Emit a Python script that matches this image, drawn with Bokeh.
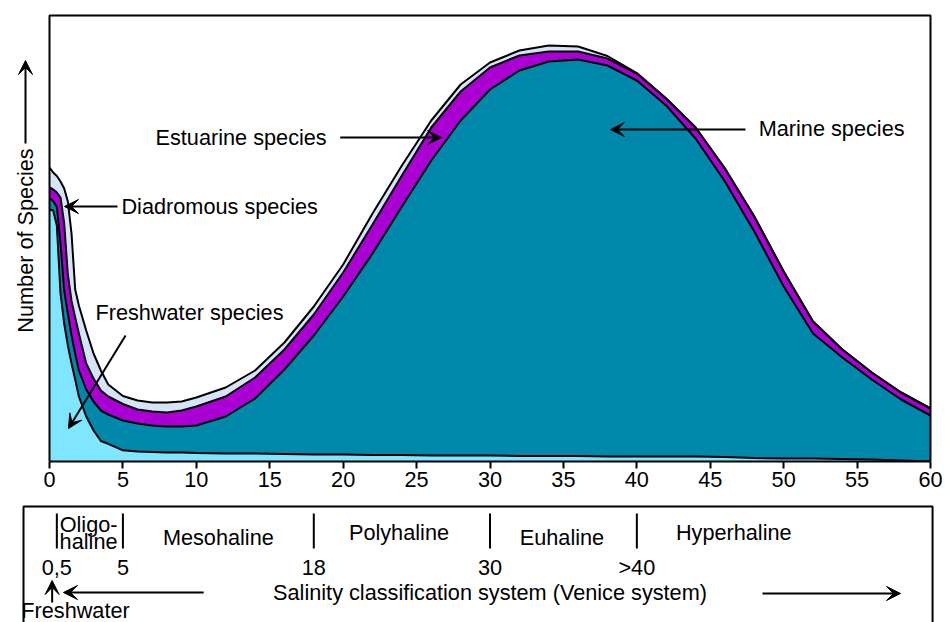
import numpy as np
from bokeh.plotting import figure
from bokeh.models import Range1d, Arrow, VeeHead, FixedTicker
from bokeh.layouts import column
from bokeh.embed import file_html
from bokeh.resources import INLINE
from bokeh.core.properties import value

# ---------------- data ----------------
salinity = [0, 0.25, 0.5, 0.75, 1, 1.25, 1.5, 1.75, 2, 2.5, 3, 3.5, 4, 5, 6, 7, 8, 9, 10,
            12, 14, 16, 18, 20, 22, 24, 26, 28, 30, 32, 34, 36, 38, 40, 42, 44, 46, 48,
            50, 52, 54, 56, 58, 60]
freshwater = [252, 251, 236, 168, 138, 116, 98, 82, 65, 45, 31, 20.5, 17.6, 11.2, 10, 9.5, 9, 9, 8.5,
              8, 8, 7.5, 7, 7, 6.5, 6.5, 6, 6, 6, 5.5, 5.5, 5.5, 5, 5, 5, 5, 4.5, 3.5,
              3, 3, 2.5, 2, 1, 0]
marine = [11, 9.5, 18.5, 50, 33, 32, 28, 25.4, 26, 27, 29, 30.5, 29.4, 29.8, 28, 26.5, 26, 26, 27.5,
          37, 55, 84.5, 119, 158, 201.5, 248.5, 295, 335, 366, 385.5, 394.5, 396.5, 391, 376, 351, 318, 275.5, 226.5,
          172, 125, 101.5, 80, 61, 46]
estuarine = [11, 11.5, 14.5, 46, 67, 39, 34.5, 36.6, 37, 26, 23, 20, 18, 16.5, 14, 14, 14, 16, 19,
             20, 21, 20, 21, 24, 29, 31, 33, 29, 22, 15, 10, 8, 7, 7, 7, 11, 13, 15,
             15, 12, 8, 7, 7, 7]
diadromous = [20, 17, 16.5, 16, 35, 73, 67.5, 28, 28, 33, 25, 20, 12, 8, 9, 9, 10, 9, 9,
              9, 7, 7, 8, 8, 11, 10, 7, 7, 5, 5, 6, 5, 2.5, 0.5, 0, 0, 0, 0,
              0, 0, 0, 0, 0, 0]
x_ticks = [0, 5, 10, 15, 20, 25, 30, 35, 40, 45, 50, 55, 60]
y_top = 446  # top of the plotting box

# Venice system classes
class_bounds = [18, 30, 40]
oligo_bounds = [0.5, 5]
class_names = ["Mesohaline", "Polyhaline", "Euhaline", "Hyperhaline"]
class_numbers = ["0,5", "5", "18", "30", ">40"]
class_number_pos = [0.5, 5, 18, 30, 40]

# ---------------- style ----------------
FONT = value("Liberation Sans")
FS = "21.7px"
C_FW = "#80e5ff"
C_MAR = "#0088aa"
C_EST = "#aa00d4"
C_DIA = "#d5e3f7"
PX = 881 / 60.0                       # pixels per salinity unit
XR = (-49 / PX, (945 - 49) / PX)      # full-width x range

fw_top = np.array(freshwater, dtype=float)
m_top = fw_top + np.array(marine)
e_top = m_top + np.array(estuarine)
d_top = e_top + np.array(diadromous)

p = figure(width=945, height=497, x_range=Range1d(*XR), y_range=Range1d(0, 461),
           min_border_left=0, min_border_right=0, min_border_top=0, min_border_bottom=36,
           toolbar_location=None, output_backend="svg")
p.background_fill_color = "white"
p.border_fill_color = "white"
p.grid.visible = False
p.outline_line_color = None
p.yaxis.visible = False

p.varea(x=salinity, y1=0, y2=fw_top, fill_color=C_FW)
p.varea(x=salinity, y1=fw_top, y2=m_top, fill_color=C_MAR)
p.varea(x=salinity, y1=m_top, y2=e_top, fill_color=C_EST)
p.varea(x=salinity, y1=e_top, y2=d_top, fill_color=C_DIA)
for top in (fw_top, m_top, e_top, d_top):
    p.line(salinity, top, line_color="black", line_width=2)

# box around plotting area
p.line([0, 0, 60, 60], [0, y_top, y_top, 0], line_color="black", line_width=2)

xa = p.xaxis[0]
xa.bounds = (0, 60)
xa.ticker = FixedTicker(ticks=x_ticks)
xa.minor_tick_line_color = None
xa.major_tick_in = 0
xa.major_tick_out = 7
xa.major_tick_line_width = 2
xa.axis_line_width = 2
xa.major_label_standoff = 3
xa.major_label_text_font = "Liberation Sans"
xa.major_label_text_font_size = FS
xa.major_label_text_color = "black"

# y-axis title with arrow
p.text(x=[-1.634], y=[221], text=["Number of Species"], angle=np.pi / 2, text_font=FONT,
       text_font_size=FS, text_align="center", text_baseline="middle", text_color="black")

# annotations in chart
ann_text = ["Diadromous species", "Freshwater species", "Estuarine species", "Marine species"]
ann_x = [4.9, 3.13, 7.22, 48.3]
ann_y = [255, 149, 324, 333]
p.text(x=ann_x, y=ann_y, text=ann_text, text_font=FONT, text_font_size=FS,
       text_baseline="middle", text_align="left", text_color="black")

arrows = [((4.63, 255), (1.02, 255)), ((5.18, 126), (1.29, 33)),
          ((19.8, 324), (26.7, 324)), ((47.4, 332), (38.2, 332)),
          ((-1.634, 318), (-1.634, 401))]
for (xs, ys), (xe, ye) in arrows:
    p.add_layout(Arrow(end=VeeHead(size=14, fill_color="black", line_color="black"),
                       x_start=xs, y_start=ys, x_end=xe, y_end=ye,
                       line_color="black", line_width=2))

# ---------------- classification box ----------------
p2 = figure(width=945, height=125, x_range=Range1d(*XR), y_range=Range1d(125, 0),
            min_border=0, toolbar_location=None, output_backend="svg")
p2.axis.visible = False
p2.grid.visible = False
p2.outline_line_color = None
p2.background_fill_color = "white"
p2.border_fill_color = "white"

p2.line([-1.77, -1.77, 60.14, 60.14], [135, 9, 9, 135], line_color="black", line_width=2)
p2.segment(x0=oligo_bounds + class_bounds, y0=16, x1=oligo_bounds + class_bounds, y1=51,
           line_color="black", line_width=2)
p2.text(x=[2.66, 2.66], y=[27, 44], text=["Oligo-", "haline"], text_font=FONT,
        text_font_size=FS, text_align="center", text_baseline="middle")
p2.text(x=[11.5, 23.8, 34.9, 46.6], y=[40, 35, 40, 35], text=class_names, text_font=FONT,
        text_font_size=FS, text_align="center", text_baseline="middle")
p2.text(x=class_number_pos, y=70, text=class_numbers, text_font=FONT,
        text_font_size=FS, text_align="center", text_baseline="middle")
p2.text(x=[30], y=[95], text=["Salinity classification system (Venice system)"], text_font=FONT,
        text_font_size=FS, text_align="center", text_baseline="middle")
p2.text(x=[1.77], y=[113], text=["Freshwater"], text_font=FONT,
        text_font_size=FS, text_align="center", text_baseline="middle")
for (xs, ys), (xe, ye) in [((10.5, 95), (0.95, 95)), ((48.56, 96), (57.96, 96)),
                           ((0.18, 105), (0.18, 83))]:
    p2.add_layout(Arrow(end=VeeHead(size=14, fill_color="black", line_color="black"),
                        x_start=xs, y_start=ys, x_end=xe, y_end=ye,
                        line_color="black", line_width=2))

layout = column(p, p2, spacing=0)
open("out.html", "w").write(file_html(layout, INLINE))
